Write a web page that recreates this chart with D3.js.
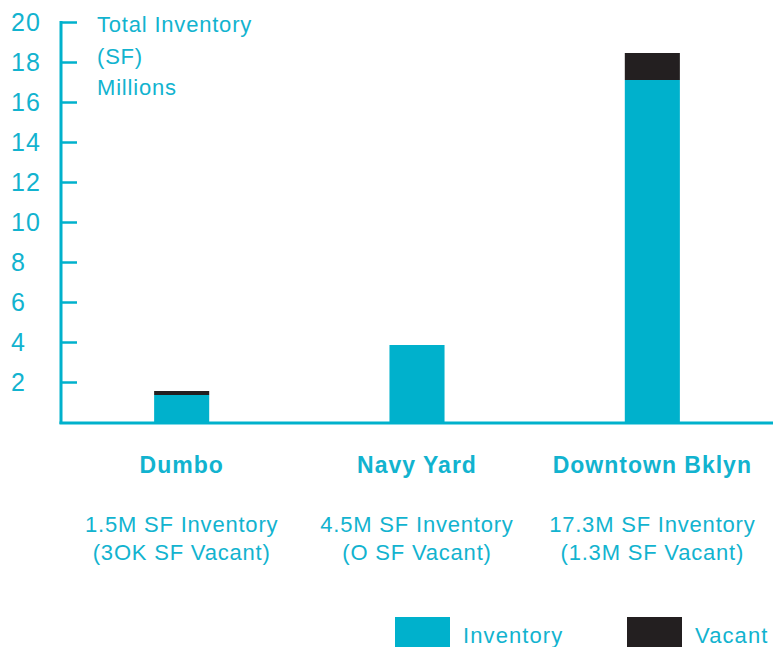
<!DOCTYPE html>
<html>
<head>
<meta charset="utf-8">
<script src="https://cdn.jsdelivr.net/npm/d3@7"></script>
<style>
  body { margin: 0; background: #fff; }
  text { font-family: "Liberation Sans", Arial, sans-serif; fill: #12b3cf; letter-spacing: 0.8px; }
</style>
</head>
<body>
<svg></svg>
<script>
// data
const areas = ["Dumbo", "Navy Yard", "Downtown Bklyn"]
const inventory = [1.35, 3.85, 17.1]
const vacant = [0.2, 0, 1.35]
const notes1 = ["1.5M SF Inventory", "4.5M SF Inventory", "17.3M SF Inventory"]
const notes2 = ["(3OK SF Vacant)", "(O SF Vacant)", "(1.3M SF Vacant)"]
const yTicks = [2, 4, 6, 8, 10, 12, 14, 16, 18, 20]
const titleLines = ["Total Inventory", "(SF)", "Millions"]
const legendKeys = ["Inventory", "Vacant"]

const width = 773
const height = 647
const teal = "#00b1cc"
const dark = "#231f20"

let svg = d3.select("svg")
    .attr("width", width)
    .attr("height", height)

let y = d3.scaleLinear().domain([0, 20]).range([422, 22])

let x = d3.scaleBand()
    .domain(areas)
    .range([64, 770])
    .paddingInner(0.766)
    .paddingOuter(0.383)

let rows = areas.map(function(a, i) {
    return {area: a, inv: inventory[i], vac: vacant[i]}
})

// bars: inventory then vacant on top
svg.selectAll("rect.inv")
    .data(rows)
    .enter()
    .append("rect")
    .attr("class", "inv")
    .attr("x", d => x(d.area))
    .attr("width", x.bandwidth())
    .attr("y", d => y(d.inv))
    .attr("height", d => y(0) - y(d.inv))
    .attr("fill", teal)

svg.selectAll("rect.vac")
    .data(rows.filter(d => d.vac > 0))
    .enter()
    .append("rect")
    .attr("class", "vac")
    .attr("x", d => x(d.area))
    .attr("width", x.bandwidth())
    .attr("y", d => y(d.inv + d.vac))
    .attr("height", d => y(d.inv) - y(d.inv + d.vac))
    .attr("fill", dark)

// y axis
let yAxis = svg.append("g")
    .attr("transform", "translate(61,0)")
    .call(d3.axisRight(y).tickValues(yTicks).tickSize(16).tickFormat(""))
yAxis.select(".domain").remove()
yAxis.selectAll("line").attr("stroke", teal).attr("stroke-width", 2.5)

svg.append("line")
    .attr("x1", 61).attr("x2", 61)
    .attr("y1", y(20) - 1).attr("y2", y(0) + 2)
    .attr("stroke", teal).attr("stroke-width", 3)

svg.append("line")
    .attr("x1", 59.5).attr("x2", width)
    .attr("y1", y(0) + 1).attr("y2", y(0) + 1)
    .attr("stroke", teal).attr("stroke-width", 3)

svg.selectAll("text.tick")
    .data(yTicks)
    .enter()
    .append("text")
    .attr("class", "tick")
    .attr("x", 11)
    .attr("y", d => y(d))
    .attr("dy", "0.36em")
    .style("font-size", "25px")
    .style("letter-spacing", "1px")
    .text(d => d)

// title
svg.selectAll("text.title")
    .data(titleLines)
    .enter()
    .append("text")
    .attr("class", "title")
    .attr("x", 97)
    .attr("y", (d, i) => 32 + i * 31.5)
    .style("font-size", "22px")
    .text(d => d)

// category labels
svg.selectAll("text.cat")
    .data(areas)
    .enter()
    .append("text")
    .attr("class", "cat")
    .attr("x", d => x(d) + x.bandwidth() / 2)
    .attr("y", 473)
    .attr("text-anchor", "middle")
    .style("font-size", "23px")
    .style("font-weight", "bold")
    .style("letter-spacing", "1px")
    .text(d => d)

svg.selectAll("text.note1")
    .data(notes1)
    .enter()
    .append("text")
    .attr("class", "note1")
    .attr("x", (d, i) => x(areas[i]) + x.bandwidth() / 2)
    .attr("y", 532)
    .attr("text-anchor", "middle")
    .style("font-size", "22px")
    .text(d => d)

svg.selectAll("text.note2")
    .data(notes2)
    .enter()
    .append("text")
    .attr("class", "note2")
    .attr("x", (d, i) => x(areas[i]) + x.bandwidth() / 2)
    .attr("y", 560)
    .attr("text-anchor", "middle")
    .style("font-size", "22px")
    .text(d => d)

// legend
let legendX = d3.scaleOrdinal().domain(legendKeys).range([395, 627])
let legendColor = d3.scaleOrdinal().domain(legendKeys).range([teal, dark])

let legend = svg.selectAll("g.legend")
    .data(legendKeys)
    .enter()
    .append("g")
    .attr("class", "legend")
    .attr("transform", d => "translate(" + legendX(d) + ",617)")

legend.append("rect")
    .attr("width", 55)
    .attr("height", 30)
    .attr("fill", d => legendColor(d))

legend.append("text")
    .attr("x", 68)
    .attr("y", 26)
    .style("font-size", "22px")
    .style("letter-spacing", "1.1px")
    .text(d => d)
</script>
</body>
</html>
